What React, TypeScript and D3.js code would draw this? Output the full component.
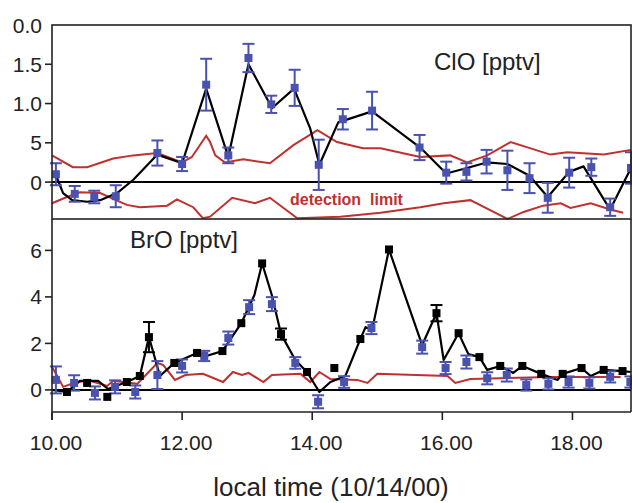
import React from 'react';
import * as d3 from 'd3';

// ---------- ClO (upper panel) ----------
const cloTime = [10.06, 10.35, 10.65, 10.98, 11.62, 12.0, 12.37, 12.71, 13.02, 13.37, 13.73, 14.1, 14.47, 14.92, 15.65, 16.06, 16.37, 16.68, 17.0, 17.34, 17.62, 17.95, 18.29, 18.58, 18.9];
const cloValue = [0.10, -0.15, -0.19, -0.18, 0.37, 0.23, 1.24, 0.34, 1.58, 0.99, 1.2, 0.22, 0.8, 0.91, 0.44, 0.12, 0.13, 0.26, 0.15, 0.05, -0.2, 0.12, 0.19, -0.32, 0.18];
const cloErr = [0.14, 0.1, 0.08, 0.14, 0.16, 0.09, 0.33, 0.1, 0.18, 0.11, 0.23, 0.32, 0.13, 0.24, 0.16, 0.14, 0.11, 0.15, 0.25, 0.19, 0.19, 0.19, 0.11, 0.11, 0.2];

const cloLineTime = [10.06, 10.17, 10.31, 10.54, 10.74, 11.0, 11.25, 11.62, 12.0, 12.37, 12.71, 13.02, 13.32, 13.38, 13.72, 13.97, 14.11, 14.4, 14.92, 15.66, 16.06, 16.38, 16.68, 17.0, 17.34, 17.62, 17.95, 18.17, 18.58, 18.9];
const cloLineValue = [0.09, -0.14, -0.23, -0.25, -0.23, -0.14, 0.03, 0.35, 0.24, 1.19, 0.32, 1.5, 1.04, 0.94, 1.19, 0.68, 0.22, 0.76, 0.9, 0.44, 0.11, 0.18, 0.25, 0.23, 0.08, -0.19, 0.13, 0.2, -0.35, 0.18];

const cloDetUpTime = [10.0, 10.32, 10.54, 10.94, 11.25, 11.62, 12.0, 12.15, 12.37, 12.43, 12.51, 12.66, 12.94, 13.35, 13.71, 14.08, 14.38, 14.78, 15.05, 15.66, 16.12, 16.38, 16.69, 17.05, 17.66, 17.92, 18.48, 18.9];
const cloDetUpValue = [0.34, 0.19, 0.19, 0.30, 0.34, 0.37, 0.25, 0.32, 0.59, 0.51, 0.34, 0.25, 0.29, 0.24, 0.47, 0.66, 0.51, 0.43, 0.43, 0.32, 0.34, 0.25, 0.34, 0.51, 0.35, 0.38, 0.35, 0.41];

const cloDetLowTime = [10.0, 10.23, 10.43, 10.74, 11.15, 11.35, 11.77, 11.92, 12.17, 12.32, 12.43, 12.77, 13.12, 13.35, 13.77, 14.43, 15.05, 15.66, 16.02, 16.43, 17.0, 17.25, 17.55, 17.82, 17.97, 18.28, 18.58, 18.78];
const cloDetLowValue = [-0.27, -0.19, -0.13, -0.14, -0.29, -0.32, -0.30, -0.22, -0.32, -0.46, -0.44, -0.20, -0.27, -0.20, -0.46, -0.44, -0.39, -0.32, -0.27, -0.23, -0.47, -0.38, -0.30, -0.27, -0.33, -0.27, -0.35, -0.39];

// ---------- BrO (lower panel) ----------
const broBlueTime = [10.06, 10.34, 10.66, 10.97, 11.28, 11.62, 12.0, 12.34, 12.71, 13.03, 13.38, 13.74, 14.09, 14.49, 14.91, 15.69, 16.05, 16.37, 16.69, 16.99, 17.29, 17.63, 17.94, 18.26, 18.58, 18.89];
const broBlueValue = [0.43, 0.3, -0.13, 0.13, -0.09, 0.64, 1.03, 1.46, 2.23, 3.56, 3.69, 1.16, -0.51, 0.34, 2.66, 1.84, 0.94, 1.2, 0.5, 0.64, 0.21, 0.26, 0.34, 0.3, 0.56, 0.34];
const broBlueErr = [0.58, 0.33, 0.28, 0.28, 0.28, 0.6, 0.28, 0.22, 0.28, 0.3, 0.3, 0.25, 0.28, 0.25, 0.26, 0.28, 0.26, 0.28, 0.26, 0.28, 0.24, 0.24, 0.24, 0.24, 0.24, 0.24];

const broBlackTime = [10.23, 10.54, 10.85, 11.15, 11.35, 11.49, 11.88, 12.23, 12.62, 12.91, 13.23, 13.52, 13.92, 14.34, 14.74, 15.18, 15.91, 16.25, 16.57, 16.89, 17.23, 17.52, 17.85, 18.14, 18.48, 18.77];
const broBlackValue = [-0.09, 0.3, -0.3, 0.34, 0.6, 2.27, 1.16, 1.59, 1.67, 2.87, 5.44, 2.4, 0.77, 0.94, 2.19, 6.04, 3.3, 2.44, 1.41, 1.03, 1.03, 0.69, 0.69, 0.94, 0.86, 0.81];
const broBlackErr = [0, 0, 0, 0, 0, 0.65, 0, 0, 0, 0, 0, 0.24, 0, 0, 0, 0, 0.35, 0, 0, 0, 0, 0, 0, 0, 0, 0];

const broLineTime = [10.0, 10.23, 10.43, 10.71, 10.86, 11.15, 11.35, 11.49, 11.66, 11.88, 12.23, 12.37, 12.62, 12.91, 13.11, 13.23, 13.38, 13.52, 13.74, 13.92, 14.11, 14.28, 14.51, 14.74, 14.82, 14.92, 15.18, 15.69, 15.91, 16.02, 16.25, 16.4, 16.57, 16.69, 16.89, 17.09, 17.23, 17.52, 17.77, 17.85, 18.14, 18.28, 18.48, 18.77, 18.9];
const broLineValue = [0.0, -0.09, 0.39, 0.39, 0.04, 0.34, 0.6, 2.27, 0.6, 1.16, 1.59, 1.46, 1.67, 2.87, 4.07, 5.44, 4.07, 2.4, 1.29, 0.77, -0.09, 0.34, 0.6, 2.19, 2.7, 2.57, 6.04, 1.93, 3.3, 1.29, 2.44, 1.54, 1.41, 0.86, 1.03, 0.73, 1.03, 0.69, 0.43, 0.69, 0.94, 0.6, 0.86, 0.81, 0.77];

const broDetTime = [10.0, 10.09, 10.17, 10.38, 10.58, 10.85, 10.94, 11.31, 11.62, 11.71, 11.89, 12.05, 12.32, 12.63, 12.78, 12.92, 13.02, 13.25, 13.38, 13.82, 13.97, 14.11, 14.28, 14.69, 14.85, 15.0, 16.08, 16.2, 16.43, 17.66, 18.74];
const broDetValue = [0.99, 0.56, 0.13, 0.34, 0.39, 0.17, 0.39, 0.26, 1.16, 1.07, 0.43, 0.64, 0.69, 0.34, 0.77, 0.64, 0.73, 0.34, 0.64, 0.69, 0.34, 0.77, 0.47, 0.43, 0.3, 0.69, 0.6, 0.3, 0.47, 0.56, 0.56];

// ---------- axes ----------
const xTickValues = [10, 12, 14, 16, 18];
const xTickLabels = ['10.00', '12.00', '14.00', '16.00', '18.00'];
const cloTickValues = [2.0, 1.5, 1.0, 0.5, 0];
const cloTickLabels = ['0.0', '1.5', '1.0', '5', '0'];
const broTickValues = [6, 4, 2, 0];
const broTickLabels = ['6', '4', '2', '0'];

const BLUE = '#4a52b0';
const RED = '#c0302e';
const FONT = '"Liberation Sans", Arial, Helvetica, sans-serif';

const zip = (t: number[], v: number[]) => t.map((d, i) => [d, v[i]] as [number, number]);

export default function App() {
  const x = d3.scaleLinear().domain([10, 18.9]).range([52, 631]);
  const yTop = d3.scaleLinear().domain([-0.47, 2.0]).range([219, 25]);
  const yBot = d3.scaleLinear().domain([-0.95, 7.35]).range([412, 219]);

  const lineTop = d3.line<[number, number]>().x(d => x(d[0])).y(d => yTop(d[1]));
  const lineBot = d3.line<[number, number]>().x(d => x(d[0])).y(d => yBot(d[1]));

  const L = 52, R = 631;
  const sq = 8;
  const cap = 6;

  const errBars = (t: number[], v: number[], e: number[], y: d3.ScaleLinear<number, number>, color: string, key: string) =>
    t.map((tt, i) => {
      if (!e[i]) return null;
      const cx = x(tt);
      const y1 = y(v[i] + e[i]);
      const y2 = y(v[i] - e[i]);
      return (
        <g key={key + i} stroke={color} strokeWidth={2}>
          <line x1={cx} x2={cx} y1={y1} y2={y2} />
          <line x1={cx - cap} x2={cx + cap} y1={y1} y2={y1} />
          <line x1={cx - cap} x2={cx + cap} y1={y2} y2={y2} />
        </g>
      );
    });

  const squares = (t: number[], v: number[], y: d3.ScaleLinear<number, number>, color: string, key: string) =>
    t.map((tt, i) => (
      <rect key={key + i} x={x(tt) - sq / 2} y={y(v[i]) - sq / 2} width={sq} height={sq} fill={color} />
    ));

  return (
    <svg width={632} height={503} style={{ position: 'absolute', left: 0, top: 0, background: '#fff' }} fontFamily={FONT}>
      <rect x={0} y={0} width={632} height={503} fill="#fff" />

      {/* ---------- upper panel ---------- */}
      <path d={lineTop(zip(cloDetUpTime, cloDetUpValue)) || ''} fill="none" stroke={RED} strokeWidth={2} />
      <path d={lineTop(zip(cloDetLowTime, cloDetLowValue)) || ''} fill="none" stroke={RED} strokeWidth={2} />
      <line x1={L} x2={R} y1={yTop(0)} y2={yTop(0)} stroke="#000" strokeWidth={2} />
      <path d={lineTop(zip(cloLineTime, cloLineValue)) || ''} fill="none" stroke="#000" strokeWidth={2.2} strokeLinejoin="round" />
      {errBars(cloTime, cloValue, cloErr, yTop, BLUE, 'ce')}
      {squares(cloTime, cloValue, yTop, BLUE, 'cs')}
      <text x={290} y={205} fill={RED} fontWeight="bold" fontSize={16} style={{ whiteSpace: 'pre' }}>detection  limit</text>
      <text x={434} y={70} fill="#222" fontSize={24}>ClO [pptv]</text>
      <rect x={L} y={25} width={R - L} height={219 - 25} fill="none" stroke="#222" strokeWidth={1.6} />
      {cloTickValues.map((v, i) => (
        <g key={'ct' + i}>
          {i > 0 && <line x1={L - 7} x2={L} y1={yTop(v)} y2={yTop(v)} stroke="#222" strokeWidth={1.6} />}
          <text x={L - 10} y={yTop(v)} dy="0.36em" textAnchor="end" fontSize={21} fill="#222">{cloTickLabels[i]}</text>
        </g>
      ))}

      {/* ---------- lower panel ---------- */}
      <path d={lineBot(zip(broDetTime, broDetValue)) || ''} fill="none" stroke={RED} strokeWidth={2} />
      <line x1={L} x2={R} y1={yBot(0)} y2={yBot(0)} stroke="#000" strokeWidth={2} />
      <path d={lineBot(zip(broLineTime, broLineValue)) || ''} fill="none" stroke="#000" strokeWidth={2.2} strokeLinejoin="round" />
      {errBars(broBlueTime, broBlueValue, broBlueErr, yBot, BLUE, 'be')}
      {squares(broBlueTime, broBlueValue, yBot, BLUE, 'bs')}
      {errBars(broBlackTime, broBlackValue, broBlackErr, yBot, '#000', 'ke')}
      {squares(broBlackTime, broBlackValue, yBot, '#000', 'ks')}
      <text x={130} y={248} fill="#222" fontSize={24}>BrO [pptv]</text>
      <line x1={L} x2={L} y1={219} y2={420} stroke="#222" strokeWidth={1.6} />
      <line x1={R} x2={R} y1={219} y2={412} stroke="#222" strokeWidth={1.6} />
      <line x1={L} x2={R} y1={412} y2={412} stroke="#222" strokeWidth={1.6} />
      {broTickValues.map((v, i) => (
        <g key={'bt' + i}>
          <line x1={L - 7} x2={L} y1={yBot(v)} y2={yBot(v)} stroke="#222" strokeWidth={1.6} />
          <text x={L - 10} y={yBot(v)} dy="0.36em" textAnchor="end" fontSize={21} fill="#222">{broTickLabels[i]}</text>
        </g>
      ))}

      {/* ---------- x axis ---------- */}
      {xTickValues.map((v, i) => (
        <g key={'xt' + i}>
          <line x1={x(v)} x2={x(v)} y1={412} y2={420} stroke="#222" strokeWidth={1.6} />
          <text x={x(v) + 4} y={450} textAnchor="middle" fontSize={21} fill="#222">{xTickLabels[i]}</text>
        </g>
      ))}
      <text x={331} y={496} textAnchor="middle" fontSize={26} fill="#222">local time (10/14/00)</text>
    </svg>
  );
}
